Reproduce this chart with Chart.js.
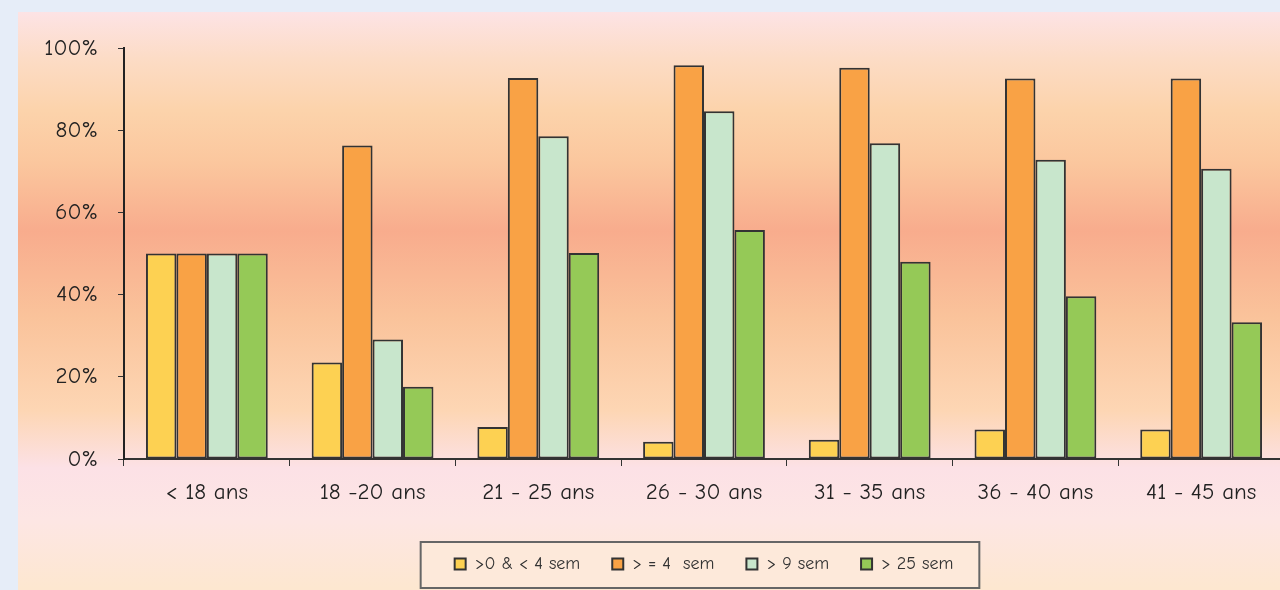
<!DOCTYPE html>
<html>
<head>
<meta charset="utf-8">
<script src="https://cdn.jsdelivr.net/npm/chart.js@4.4.1/dist/chart.umd.min.js"></script>
<style>
  html, body { margin: 0; padding: 0; overflow: hidden; background: #e6edf8; width: 1280px; height: 590px; }
  #panel {
    position: absolute; left: 18px; top: 12px; width: 1368px; height: 600px;
    background: linear-gradient(to bottom,
      #fde3e5 0%, #fcdcc6 7.7%, #fcd3ab 16.4%, #fbc79e 25%, #f8ac8d 36.5%,
      #fac39b 51%, #fdd6b4 66.5%, #fce1e6 76%, #fde6e4 84.6%, #fde7d0 96%);
  }
  #wrap { position: absolute; left: 0; top: 0; width: 1368px; height: 600px; }
</style>
</head>
<body>
<div id="panel"><div id="wrap"><canvas id="chart"></canvas></div></div>
<script>
var labels = ['< 18 ans', '18 -20 ans', '21 - 25 ans', '26 - 30 ans', '31 - 35 ans', '36 - 40 ans', '41 - 45 ans'];
var series0to4 = [50, 23.5, 7.8, 4.2, 4.7, 7.2, 7.2];
var series4 = [50, 76.3, 92.7, 95.8, 95.2, 92.6, 92.6];
var series9 = [50, 29.1, 78.5, 84.6, 76.8, 72.8, 70.6];
var series25 = [50, 17.6, 50.1, 55.7, 48.0, 39.6, 33.3];
var yTicks = [0, 20, 40, 60, 80, 100];

var font = '"Comic Sans MS", "Comic Neue", "DejaVu Sans", sans-serif';

function ds(label, data, color) {
  return {
    label: label,
    data: data,
    backgroundColor: color,
    borderColor: '#333',
    borderWidth: 2,
    borderSkipped: false
  };
}

// box around the legend, like the original
var legendBox = {
  id: 'legendBox',
  beforeDraw: function(chart) {
    var boxes = chart.legend.legendHitBoxes;
    if (!boxes || !boxes.length) return;
    var l = Infinity, r = -Infinity, t = Infinity, b = -Infinity;
    boxes.forEach(function(h) {
      l = Math.min(l, h.left); r = Math.max(r, h.left + h.width);
      t = Math.min(t, h.top); b = Math.max(b, h.top + h.height);
    });
    var cy = (t + b) / 2;
    var ctx = chart.ctx;
    ctx.save();
    ctx.fillStyle = '#fde9da';
    ctx.strokeStyle = '#666';
    ctx.lineWidth = 2;
    ctx.fillRect(l - 34, cy - 22, r - l + 60, 46);
    ctx.strokeRect(l - 34, cy - 22, r - l + 60, 46);
    ctx.restore();
  }
};

new Chart(document.getElementById('chart'), {
  type: 'bar',
  data: {
    labels: labels,
    datasets: [
      ds('>0 & < 4 sem', series0to4, '#fdd152'),
      ds('> = 4  sem', series4, '#f9a245'),
      ds('> 9 sem', series9, '#c8e6cc'),
      ds('> 25 sem', series25, '#95c957')
    ]
  },
  options: {
    responsive: true,
    maintainAspectRatio: false,
    animation: false,
    categoryPercentage: 0.735,
    barPercentage: 1,
    layout: { padding: { top: 36, left: 0, right: 102, bottom: 29 } },
    plugins: {
      tooltip: { enabled: false },
      legend: {
        position: 'bottom',
        fullSize: false,
        labels: {
          font: { family: font, size: 18 },
          color: '#333',
          boxWidth: 11,
          boxHeight: 11,
          padding: 32
        }
      }
    },
    scales: {
      x: {
        grid: { drawOnChartArea: false, drawTicks: true, tickLength: 7, color: '#333' },
        border: { display: true, color: '#333', width: 2 },
        ticks: { font: { family: font, size: 23 }, color: '#222', padding: 13 },
        afterFit: function(s) { s.height = 64; }
      },
      y: {
        min: 0,
        max: 100,
        afterBuildTicks: function(s) { s.ticks = yTicks.map(function(v) { return { value: v }; }); },
        grid: { drawOnChartArea: false, drawTicks: true, tickLength: 6, color: '#333' },
        border: { display: true, color: '#222', width: 2 },
        ticks: {
          font: { family: font, size: 23 },
          color: '#222',
          padding: 20,
          callback: function(v) { return v + '%'; }
        },
        afterFit: function(s) { s.width = 106; }
      }
    }
  },
  plugins: [legendBox]
});
</script>
</body>
</html>
